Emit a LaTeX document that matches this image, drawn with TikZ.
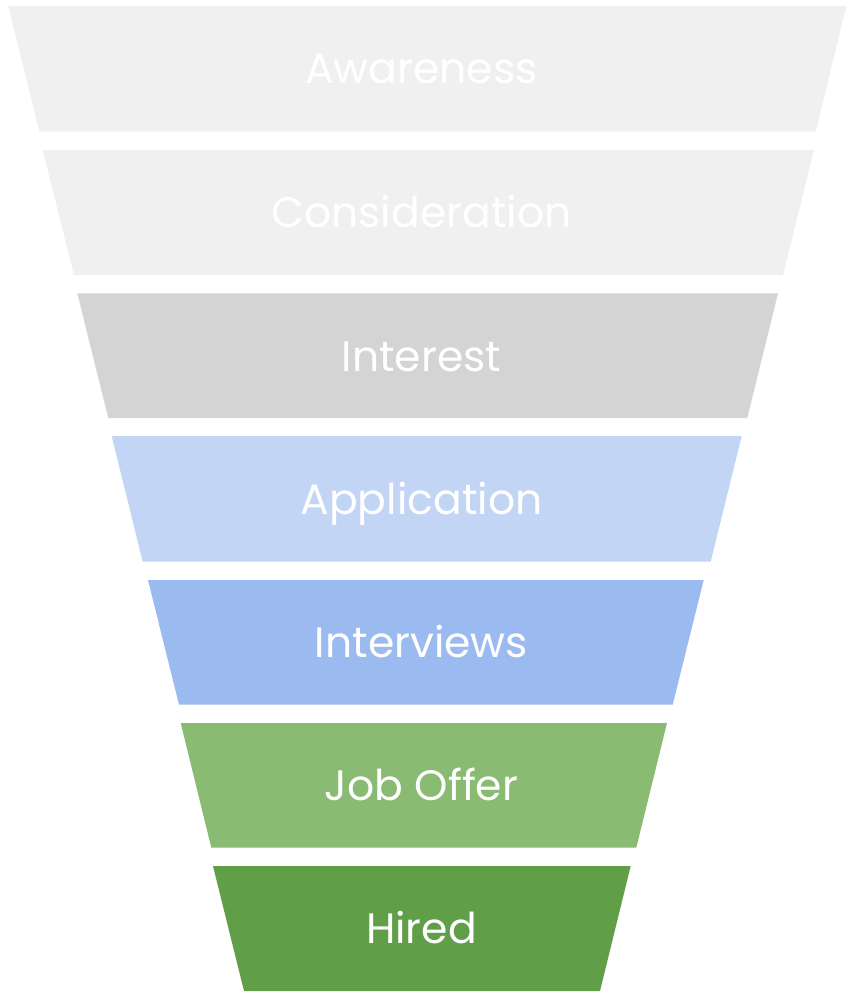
\documentclass[tikz,border=0pt]{standalone}
\usepackage{fontspec}
\setmainfont{Poppins}
\definecolor{cA}{HTML}{F0F0F0}
\definecolor{cB}{HTML}{F0F0F0}
\definecolor{cC}{HTML}{D4D4D4}
\definecolor{cD}{HTML}{C2D5F5}
\definecolor{cE}{HTML}{9BBBF0}
\definecolor{cF}{HTML}{8ABB73}
\definecolor{cG}{HTML}{609E48}
\tikzset{
  stage/.style={draw=none},
  stagelabel/.style={text=white, font=\fontsize{42.5}{50}\selectfont, anchor=base, inner sep=0pt}
}
\begin{document}
\begin{tikzpicture}[x=1pt,y=-1pt]
\useasboundingbox (0,0) rectangle (853,999);
\fill[white] (0,0) rectangle (853,999);
% stage trapezoids: top-left, top-right, bottom-right, bottom-left
\fill[stage,cA] (8.3,6) -- (846.3,6) -- (815.7,131.7) -- (39.3,131.7) -- cycle;
\fill[stage,cB] (42.7,150) -- (814,150) -- (783,275) -- (74,275) -- cycle;
\fill[stage,cC] (77.3,293.3) -- (778,293.3) -- (747.3,418) -- (108.3,418) -- cycle;
\fill[stage,cD] (111.7,436) -- (741.7,436) -- (710.7,561.7) -- (142.7,561.7) -- cycle;
\fill[stage,cE] (148,580) -- (703.7,580) -- (672.7,704.7) -- (179,704.7) -- cycle;
\fill[stage,cF] (180.7,723) -- (667,723) -- (636.3,847.7) -- (211.3,847.7) -- cycle;
\fill[stage,cG] (213,866) -- (630.7,866) -- (600,991) -- (244,991) -- cycle;
% labels
\node[stagelabel] (l1) at (421.5,83.3) {Awareness};
\node[stagelabel] (l2) at (421.5,227) {Consideration};
\node[stagelabel] (l3) at (421.5,371) {Interest};
\node[stagelabel] (l4) at (421.5,514) {Application};
\node[stagelabel] (l5) at (421.5,657.5) {Interviews};
\node[stagelabel] (l6) at (421.5,800.5) {Job Offer};
\node[stagelabel] (l7) at (421.5,943.3) {Hired};
\end{tikzpicture}
\end{document}
